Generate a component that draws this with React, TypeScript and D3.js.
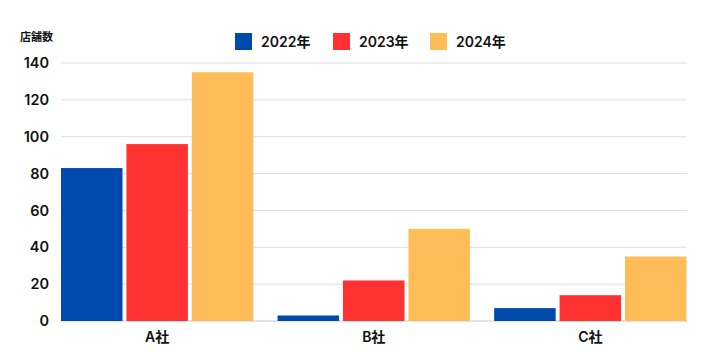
import React from "react";
import * as d3 from "d3";

const categories = ["A社", "B社", "C社"];
const seriesNames = ["2022年", "2023年", "2024年"];
const values2022 = [83, 3, 7];
const values2023 = [96, 22, 14];
const values2024 = [135, 50, 35];
const yTicks = [0, 20, 40, 60, 80, 100, 120, 140];
const colors = ["#004aad", "#ff3131", "#ffbd59"];
const yTitle = "店舗数";

const W = 720;
const H = 363;
const FONT = "Inter, 'Noto Sans CJK JP', sans-serif";

export default function App() {
  const left = 61, right = 686.5, top = 63, bottom = 321;
  const x0 = d3.scaleBand().domain(categories).range([left, right]).paddingInner(0.112).paddingOuter(0);
  const x1 = d3.scaleBand().domain(seriesNames).range([0, x0.bandwidth()]).paddingInner(0.06).paddingOuter(0);
  const y = d3.scaleLinear().domain([0, 140]).range([bottom, top]);
  const series = [values2022, values2023, values2024];

  const legendX = [235, 333, 430];

  return (
    <svg width={W} height={H} style={{ position: "absolute", left: 0, top: 0, background: "#fff" }} fontFamily={FONT}>
      <rect width={W} height={H} fill="#fff" />
      {yTicks.map((t) => (
        <g key={t}>
          <line x1={left} x2={687} y1={y(t)} y2={y(t)} stroke={t === 0 ? "#c8c8c8" : "#dedede"} strokeWidth={1} />
          <text x={49} y={y(t)} dy="0.35em" textAnchor="end" fontSize={14.5} fontWeight={600} fill="#111">
            {t}
          </text>
        </g>
      ))}
      <text x={20} y={37} dy="0.35em" fontSize={11} fontWeight={700} fill="#111">
        {yTitle}
      </text>
      {categories.map((c, i) => (
        <g key={c} transform={`translate(${x0(c)},0)`}>
          {seriesNames.map((s, j) => (
            <rect
              key={s}
              x={x1(s)}
              y={y(series[j][i])}
              width={x1.bandwidth()}
              height={y(0) - y(series[j][i])}
              fill={colors[j]}
            />
          ))}
          <text x={x0.bandwidth() / 2} y={337} dy="0.35em" textAnchor="middle" fontSize={14} fontWeight={600} fill="#111">
            {c}
          </text>
        </g>
      ))}
      {seriesNames.map((s, j) => (
        <g key={s}>
          <rect x={legendX[j]} y={33} width={17} height={17} fill={colors[j]} />
          <text x={legendX[j] + 26} y={42} dy="0.35em" fontSize={14} fontWeight={600} fill="#111">
            {s}
          </text>
        </g>
      ))}
    </svg>
  );
}
